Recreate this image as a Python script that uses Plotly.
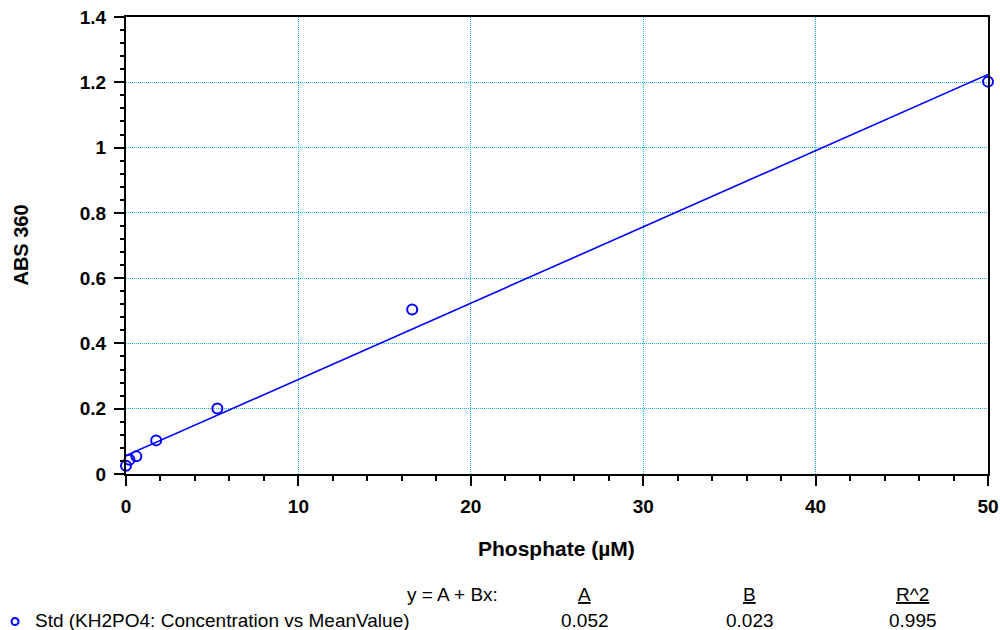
import numpy as np
import plotly.graph_objects as go

# Data
concentration = [0.0, 0.2, 0.6, 1.75, 5.3, 16.6, 50.0]
mean_value = [0.025, 0.044, 0.054, 0.103, 0.201, 0.504, 1.202]
fit_range = [0.0, 50.0]

fit_header = ["y = A + Bx:", "A", "B", "R^2"]
fit_values = ["0.052", "0.023", "0.995"]
series_name = "Std (KH2PO4: Concentration vs MeanValue)"
x_title = "Phosphate (µM)"
y_title = "ABS 360"

B, A = np.polyfit(concentration, mean_value, 1)
fit_x = np.array(fit_range)
fit_y = A + B * fit_x

BLUE = "#0000ff"
GRID = "#1ab4ff"
FONT = "Liberation Sans, Arial, sans-serif"

W, H = 1000, 630
L, R, T, Bt = 126, 988.5, 17, 474
pw, ph = R - L, Bt - T


def px(x):
    return (x - L) / pw


def py(y):
    return (Bt - y) / ph


fig = go.Figure()
fig.add_trace(go.Scatter(x=fit_x, y=fit_y, mode="lines",
                         line=dict(color=BLUE, width=1.6), showlegend=False,
                         hoverinfo="skip", cliponaxis=False))
fig.add_trace(go.Scatter(x=concentration, y=mean_value, mode="markers",
                         marker=dict(symbol="circle-open", size=10, color=BLUE,
                                     line=dict(width=2, color=BLUE)),
                         showlegend=False, cliponaxis=False))

axis_common = dict(showline=True, linecolor="black", linewidth=2, mirror=True,
                   ticks="outside", ticklen=10, tickwidth=2, tickcolor="black",
                   showgrid=True, gridcolor=GRID, griddash="1px,1px", gridwidth=1,
                   zeroline=False, automargin=False, ticklabeloverflow="allow",
                   tickfont=dict(size=19, family=FONT, weight="bold", color="black"))

fig.update_layout(
    width=W, height=H,
    margin=dict(l=L, r=W - R, t=T, b=H - Bt, pad=0),
    plot_bgcolor="white", paper_bgcolor="white",
    font=dict(family=FONT, color="black"),
    xaxis=dict(range=[0, 50], dtick=10, tick0=0, ticklabelstandoff=4,
               minor=dict(dtick=2, ticks="outside", ticklen=5, tickwidth=2,
                          tickcolor="black", showgrid=False),
               **axis_common),
    yaxis=dict(range=[0, 1.4], dtick=0.2, tick0=0, tickformat="~g",
               ticklabelstandoff=4,
               minor=dict(dtick=0.04, ticks="outside", ticklen=4, tickwidth=2,
                          tickcolor="black", showgrid=False),
               **axis_common),
)

fig.add_annotation(x=px(557), y=py(548), xref="paper", yref="paper",
                   text="<b>" + x_title + "</b>", showarrow=False,
                   xanchor="center", yanchor="middle",
                   font=dict(size=21, family=FONT, color="black"))
fig.add_annotation(x=px(20), y=py(245.5), xref="paper", yref="paper",
                   text="<b>" + y_title + "</b>", showarrow=False, textangle=-90,
                   xanchor="center", yanchor="middle",
                   font=dict(size=20, family=FONT, color="black"))

ann_font = dict(size=19, family=FONT, color="black")
header_x = [500, 585, 750, 913]
anchors = ["right", "center", "center", "center"]
for i, (t, xx, an) in enumerate(zip(fit_header, header_x, anchors)):
    txt = t if i == 0 else "<u>" + t + "</u>"
    fig.add_annotation(x=px(xx), y=py(594), xref="paper", yref="paper", text=txt,
                       showarrow=False, xanchor=an, yanchor="middle", font=ann_font)

fig.add_annotation(x=px(33), y=py(620), xref="paper", yref="paper", text=series_name,
                   showarrow=False, xanchor="left", yanchor="middle", font=ann_font)
for t, xx in zip(fit_values, header_x[1:]):
    fig.add_annotation(x=px(xx), y=py(620), xref="paper", yref="paper", text=t,
                       showarrow=False, xanchor="center", yanchor="middle", font=ann_font)

fig.add_shape(type="circle", xref="paper", yref="paper",
              x0=px(11.5), x1=px(18.5), y0=py(625), y1=py(618),
              line=dict(color=BLUE, width=2))

fig.write_html("out.html",
               config={"displayModeBar": False},
               post_script="document.body.style.margin='0';"
                           "document.body.style.overflow='hidden';")
